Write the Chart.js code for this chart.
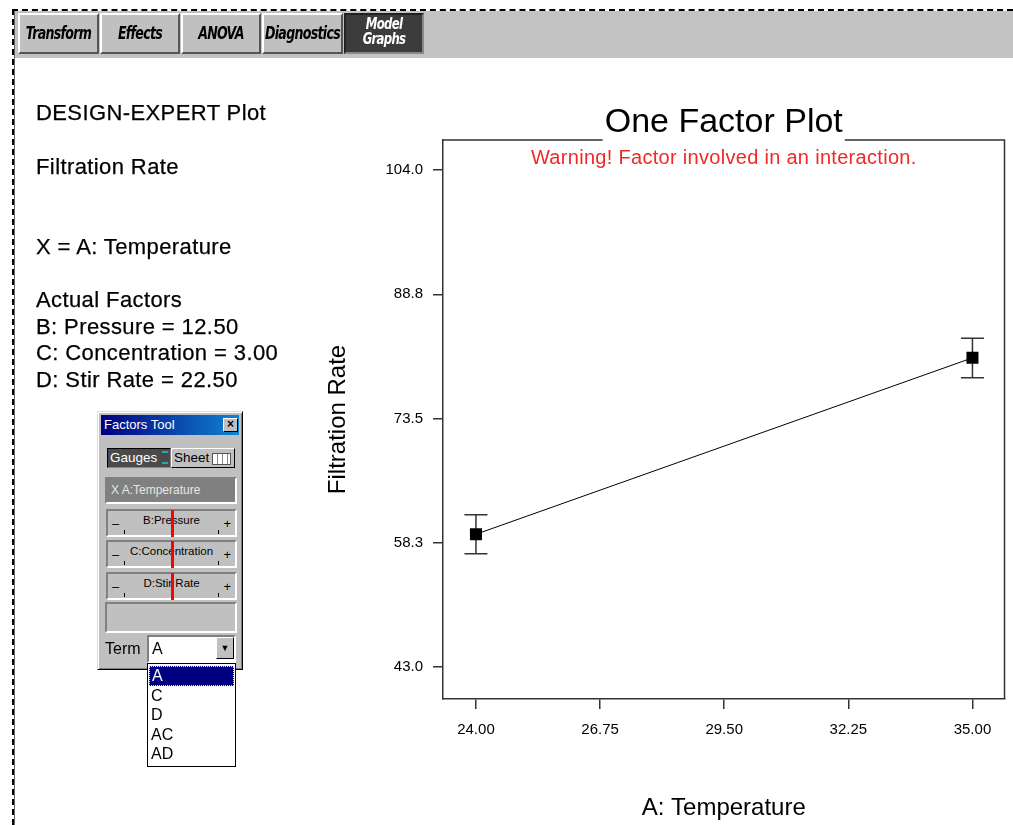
<!DOCTYPE html>
<html>
<head>
<meta charset="utf-8">
<script src="https://cdn.jsdelivr.net/npm/chart.js@4/dist/chart.umd.min.js"></script>
<style>
  html, body { margin: 0; padding: 0; background: #fff; width: 1013px; height: 825px; overflow: hidden;
    font-family: Arial, "Liberation Sans", sans-serif; }
  #chart { position: absolute; left: 0; top: 0; }
  .dash-top { position: absolute; left: 12px; top: 9px; width: 1001px; height: 0; border-top: 2px dashed #000; }
  .dash-left { position: absolute; left: 12px; top: 9px; width: 0; height: 816px; border-left: 2px dashed #000; }
  .side-line { position: absolute; left: 14px; top: 11px; width: 1px; height: 814px; background: #666; }
  #toolbar { position: absolute; left: 15px; top: 11px; width: 998px; height: 47px; background: #c3c3c3;
    border-bottom: 1px solid #fff; }
  .tab { position: absolute; top: 13px; height: 41px; box-sizing: border-box; background: #c0c0c0;
    border-top: 2px solid #fff; border-left: 2px solid #fff; border-right: 2px solid #555; border-bottom: 2px solid #555;
    font-family: "DejaVu Sans Condensed", "DejaVu Sans", sans-serif; font-weight: bold; font-style: italic;
    font-size: 14px; letter-spacing: -0.7px; color: #000; text-align: center; line-height: 37px; }
  .tab span { display: inline-block; transform: scale(1, 1.25); }
  .tab.active { background: #3c3c3c; color: #fff; line-height: 12px; padding-top: 4px;
    border-color: #222 #888 #888 #222; font-size: 13px; }
  .note { position: absolute; left: 36px; font-size: 22px; letter-spacing: 0.4px; color: #000; white-space: nowrap;
    line-height: 26px; -webkit-text-stroke: 0.25px #000; }
  /* Factors Tool window */
  #ft { position: absolute; left: 97px; top: 411px; width: 146px; height: 259px; background: #c0c0c0; box-sizing: border-box;
    border: 1px solid; border-color: #dfdfdf #000 #000 #dfdfdf; box-shadow: inset 1px 1px #fff, inset -1px -1px #808080; }
  #ft .abs { position: absolute; box-sizing: border-box; }
  .titlebar { left: 3px; top: 3px; width: 138px; height: 20px; background: linear-gradient(to right, #000080, #1084d0);
    color: #fff; font-size: 13px; line-height: 20px; padding-left: 3px; }
  .closebtn { left: 125px; top: 6px; width: 15px; height: 14px; background: #c0c0c0; border: 1px solid;
    border-color: #fff #000 #000 #fff; font-size: 12px; font-weight: bold; line-height: 11px; text-align: center; color: #000; }
  .btn { top: 36px; height: 20px; font-size: 13.5px; line-height: 17px; border: 1px solid; }
  .sunken { border: 2px solid; border-color: #808080 #fff #fff #808080; }
  .slider { left: 8px; width: 131px; height: 28px; font-size: 11.5px; color: #000; }
  .slider .lbl { position: absolute; left: 0; right: 0; top: 3px; text-align: center; white-space: nowrap; overflow: hidden; }
  .slider .mn { position: absolute; left: 4px; top: 5px; font-size: 13px; }
  .slider .pl { position: absolute; right: 4px; top: 5px; font-size: 13px; }
  .slider .tk { position: absolute; bottom: 1px; width: 1px; height: 4px; background: #000; }
  .slider .red { position: absolute; left: 63px; top: -1px; width: 3px; height: 27px; background: #ff0000; }
  #droplist { position: absolute; left: 147px; top: 663px; width: 89px; height: 104px; background: #fff; box-sizing: border-box;
    border: 1px solid #000; font-size: 16px; color: #000; }
  #droplist div { height: 19.6px; line-height: 20px; padding-left: 3px; box-sizing: border-box; }
  #droplist .sel { background: #000080; color: #fff; outline: 1px dotted #ff0; outline-offset: -1px; margin: 2px 1px 0 1px; }
</style>
</head>
<body>
<canvas id="chart" width="1013" height="825"></canvas>

<div class="dash-top"></div>
<div class="dash-left"></div>
<div class="side-line"></div>
<div id="toolbar"></div>
<div class="tab" style="left:18px;width:81px;"><span>Transform</span></div>
<div class="tab" style="left:100px;width:80px;"><span>Effects</span></div>
<div class="tab" style="left:181px;width:80px;"><span>ANOVA</span></div>
<div class="tab" style="left:262px;width:81px;"><span>Diagnostics</span></div>
<div class="tab active" style="left:344px;width:80px;"><span>Model<br>Graphs</span></div>

<div class="note" style="top:100px;">DESIGN-EXPERT Plot</div>
<div class="note" style="top:154px;">Filtration Rate</div>
<div class="note" style="top:234px;">X = A: Temperature</div>
<div class="note" style="top:287px;">Actual Factors</div>
<div class="note" style="top:314px;">B: Pressure = 12.50</div>
<div class="note" style="top:340px;">C: Concentration = 3.00</div>
<div class="note" style="top:367px;">D: Stir Rate = 22.50</div>

<div id="ft">
  <div class="abs titlebar">Factors Tool</div>
  <div class="abs closebtn">×</div>
  <div class="abs btn" style="left:9px;width:64px;background:#4a4a4a;color:#fff;border-color:#000 #888 #888 #000;padding-left:2px;">Gauges<span style="position:absolute;right:2px;top:2px;width:6px;height:13px;border-top:2px solid #2aa;border-bottom:2px solid #2aa;box-sizing:border-box;"></span></div>
  <div class="abs btn" style="left:73px;width:64px;background:#c0c0c0;color:#000;border-color:#fff #000 #000 #fff;padding-left:2px;">Sheet<span style="position:absolute;right:3px;top:4px;width:17px;height:10px;border:1px solid #555;background:repeating-linear-gradient(to right,#fff 0 4px,#888 4px 5px),#fff;"></span></div>
  <div class="abs sunken" style="left:7px;top:65px;width:132px;height:27px;background:#808080;color:#e6e6e6;font-size:12px;line-height:22px;padding-left:4px;">X A:Temperature</div>
  <div class="abs slider sunken" style="top:97px;">
    <span class="mn">–</span><span class="lbl">B:Pressure</span><span class="pl">+</span>
    <span class="tk" style="left:16px;"></span><span class="tk" style="left:110px;"></span><span class="red"></span>
  </div>
  <div class="abs slider sunken" style="top:128px;">
    <span class="mn">–</span><span class="lbl" style="left:12px;right:12px;">C:Concentration</span><span class="pl">+</span>
    <span class="tk" style="left:16px;"></span><span class="tk" style="left:110px;"></span><span class="red"></span>
  </div>
  <div class="abs slider sunken" style="top:160px;">
    <span class="mn">–</span><span class="lbl">D:Stir Rate</span><span class="pl">+</span>
    <span class="tk" style="left:16px;"></span><span class="tk" style="left:110px;"></span><span class="red"></span>
  </div>
  <div class="abs sunken" style="left:7px;top:190px;width:132px;height:31px;"></div>
  <div class="abs" style="left:7px;top:228px;font-size:16px;color:#000;">Term</div>
  <div class="abs sunken" style="left:49px;top:223px;width:89px;height:28px;background:#fff;font-size:16px;line-height:23px;padding-left:3px;color:#000;">A
    <span style="position:absolute;right:0;top:0;width:18px;height:22px;background:#c0c0c0;border:1px solid;border-color:#fff #000 #000 #fff;box-sizing:border-box;font-size:9px;line-height:20px;text-align:center;">▼</span>
  </div>
</div>
<div id="droplist">
  <div class="sel">A</div>
  <div>C</div>
  <div>D</div>
  <div>AC</div>
  <div>AD</div>
</div>

<script>
// Temperature levels and the predicted filtration rate at each, with LSD interval ends
const xFactorLevels = [24.00, 35.00];
const predictedRate = [59.30, 80.95];
const lowerBound   = [56.90, 78.50];
const upperBound   = [61.70, 83.35];

// Axis ticks and extents
const xTickValues = [24.00, 26.75, 29.50, 32.25, 35.00];
const yTickValues = [43.0, 58.25, 73.5, 88.75, 104.0];
const xRange = [23.27, 35.71];
const yRange = [39.08, 107.69];

const plotTitle = 'One Factor Plot';
const warningText = 'Warning! Factor involved in an interaction.';
const xAxisTitle = 'A: Temperature';
const yAxisTitle = 'Filtration Rate';

const FONT = 'Arial, "Liberation Sans", sans-serif';
const AXIS_COLOR = '#333';

// Whisker bars for each level, drawn through the chart's scales
const errorBars = {
  id: 'errorBars',
  beforeDatasetsDraw(chart) {
    const { ctx, scales: { x, y } } = chart;
    ctx.save();
    ctx.strokeStyle = '#333';
    ctx.lineWidth = 1.5;
    const cap = 11.5;
    xFactorLevels.forEach((lvl, i) => {
      const px = x.getPixelForValue(lvl);
      const top = y.getPixelForValue(upperBound[i]);
      const bot = y.getPixelForValue(lowerBound[i]);
      ctx.beginPath();
      ctx.moveTo(px, top); ctx.lineTo(px, bot);
      ctx.moveTo(px - cap, top); ctx.lineTo(px + cap, top);
      ctx.moveTo(px - cap, bot); ctx.lineTo(px + cap, bot);
      ctx.stroke();
    });
    ctx.restore();
  }
};

// Frame around the plot with the title set into its top edge, plus the warning line
const plotFrame = {
  id: 'plotFrame',
  afterDraw(chart) {
    const { ctx, chartArea: a } = chart;
    const cx = (a.left + a.right) / 2;
    ctx.save();
    ctx.font = '34px ' + FONT;
    ctx.fillStyle = '#000';
    ctx.textAlign = 'center';
    ctx.textBaseline = 'alphabetic';
    ctx.fillText(plotTitle, cx, a.top - 8);
    const tw = ctx.measureText(plotTitle).width;

    ctx.strokeStyle = AXIS_COLOR;
    ctx.lineWidth = 1.5;
    ctx.beginPath();
    ctx.moveTo(a.left, a.top);
    ctx.lineTo(cx - tw / 2 - 2, a.top);
    ctx.moveTo(cx + tw / 2 + 2, a.top);
    ctx.lineTo(a.right, a.top);
    ctx.lineTo(a.right, a.bottom);
    ctx.stroke();

    ctx.font = '20px ' + FONT;
    if ('letterSpacing' in ctx) ctx.letterSpacing = '0.3px';
    ctx.fillStyle = '#f02828';
    ctx.textBaseline = 'middle';
    ctx.fillText(warningText, cx, a.top + 18);
    ctx.restore();
  }
};

new Chart(document.getElementById('chart'), {
  type: 'scatter',
  data: {
    datasets: [{
      data: xFactorLevels.map((v, i) => ({ x: v, y: predictedRate[i] })),
      showLine: true,
      borderColor: '#000',
      borderWidth: 1,
      pointStyle: 'rect',
      pointRadius: 8.5,
      pointBackgroundColor: '#000',
      pointBorderWidth: 0
    }]
  },
  options: {
    responsive: false,
    devicePixelRatio: 1,
    animation: false,
    layout: { padding: { left: 320, top: 140, right: 8, bottom: 0 } },
    plugins: { legend: { display: false }, tooltip: { enabled: false } },
    scales: {
      x: {
        type: 'linear',
        min: xRange[0], max: xRange[1],
        afterBuildTicks: s => { s.ticks = xTickValues.map(v => ({ value: v })); },
        afterFit: s => { s.height = 126; },
        ticks: { padding: 12, color: '#000', font: { family: FONT, size: 15 },
                 maxRotation: 0, autoSkip: false, callback: v => v.toFixed(2) },
        grid: { drawOnChartArea: false, tickLength: 10, color: AXIS_COLOR, lineWidth: 1.5 },
        border: { color: AXIS_COLOR, width: 1.5 },
        title: { display: true, text: xAxisTitle, color: '#000',
                 font: { family: FONT, size: 24 }, padding: { top: 0, bottom: 2 } }
      },
      y: {
        type: 'linear',
        min: yRange[0], max: yRange[1],
        afterBuildTicks: s => { s.ticks = yTickValues.map(v => ({ value: v })); },
        afterFit: s => { s.width = 123; },
        ticks: { padding: 10, color: '#000', font: { family: FONT, size: 15 },
                 autoSkip: false, callback: v => v.toFixed(1) },
        grid: { drawOnChartArea: false, tickLength: 10, color: AXIS_COLOR, lineWidth: 1.5 },
        border: { color: AXIS_COLOR, width: 1.5 },
        title: { display: true, text: yAxisTitle, color: '#000',
                 font: { family: FONT, size: 24 }, padding: { top: 4, bottom: 0 } }
      }
    }
  },
  plugins: [errorBars, plotFrame]
});
</script>
</body>
</html>
